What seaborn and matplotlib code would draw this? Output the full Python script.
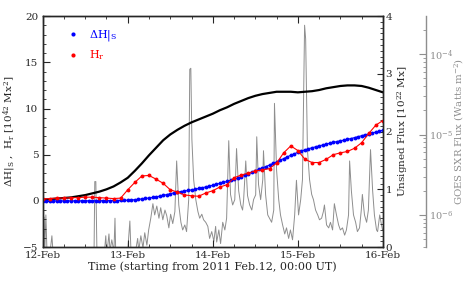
import numpy as np
import pandas as pd
import seaborn as sns
import matplotlib.pyplot as plt
from matplotlib.lines import Line2D
from matplotlib.ticker import MultipleLocator, FixedLocator, LogLocator, NullFormatter

# hours since 2011 Feb 12 00:00 UT
hours_dh = list(range(0, 97))
dh_s = [0.00, 0.00, 0.00, 0.00, 0.00, 0.00, 0.00, 0.00, 0.00, 0.00,
        0.00, 0.01, 0.01, 0.01, 0.01, 0.01, 0.02, 0.02, 0.02, 0.03,
        0.03, 0.04, 0.05, 0.06, 0.07, 0.10, 0.13, 0.17, 0.21, 0.26,
        0.31, 0.37, 0.43, 0.51, 0.59, 0.68, 0.77, 0.87, 0.95, 1.01,
        1.07, 1.13, 1.19, 1.26, 1.34, 1.42, 1.51, 1.60, 1.70, 1.80,
        1.90, 2.00, 2.10, 2.22, 2.34, 2.47, 2.61, 2.76, 2.92, 3.08,
        3.25, 3.41, 3.56, 3.72, 3.88, 4.05, 4.22, 4.40, 4.58, 4.76,
        4.94, 5.10, 5.25, 5.39, 5.52, 5.64, 5.75, 5.85, 5.95, 6.05,
        6.15, 6.24, 6.33, 6.42, 6.50, 6.58, 6.66, 6.75, 6.85, 6.95,
        7.05, 7.15, 7.25, 7.35, 7.45, 7.55, 7.65]

hours_hr = list(range(0, 97, 2))
h_r = [0.20, 0.25, 0.30, 0.30, 0.35, 0.35, 0.40, 0.40, 0.35, 0.30,
       0.25, 0.30, 1.20, 2.00, 2.70, 2.75, 2.35, 1.90, 1.20, 0.95,
       0.65, 0.55, 0.50, 0.85, 1.10, 1.50, 1.75, 2.50, 2.80, 3.00,
       3.25, 3.35, 3.50, 4.10, 5.20, 5.95, 5.45, 4.50, 4.15, 4.15,
       4.50, 5.00, 5.20, 5.35, 5.70, 6.30, 7.30, 8.20, 8.70]

hours_flux = list(range(0, 97, 2))
unsigned_flux = [0.82, 0.83, 0.84, 0.85, 0.86, 0.88, 0.90, 0.93, 0.96, 1.00,
                 1.05, 1.12, 1.20, 1.32, 1.45, 1.59, 1.72, 1.85, 1.95, 2.03,
                 2.10, 2.16, 2.21, 2.26, 2.31, 2.37, 2.42, 2.48, 2.53, 2.58,
                 2.62, 2.65, 2.67, 2.69, 2.69, 2.69, 2.68, 2.69, 2.70, 2.72,
                 2.75, 2.77, 2.79, 2.80, 2.80, 2.79, 2.76, 2.72, 2.68]

goes_hours = [0.1, 0.4, 0.6, 0.9, 1.2, 2.1, 2.6, 2.9, 4.9, 7.7, 10.5, 13.3, 14.5, 14.7, 15.0,
              15.3, 16.1, 17.3, 17.8, 18.1, 18.7, 19.0, 19.5, 20.1, 20.4, 20.6, 21.2, 22.9,
              24.0, 24.6, 24.9, 25.7, 26.8, 27.1, 27.7, 28.3, 28.8, 29.4, 29.9, 30.5, 31.1,
              31.6, 32.2, 32.8, 33.3, 33.9, 34.5, 35.0, 35.6, 36.1, 36.7, 37.3, 37.8, 38.4,
              39.0, 39.5, 40.1, 40.6, 41.2, 41.5, 41.8, 42.1, 42.6, 43.2, 43.8, 44.3, 44.9,
              45.4, 46.0, 46.6, 47.1, 47.7, 48.3, 48.8, 49.1, 49.7, 50.2, 50.8, 51.4, 51.9,
              52.5, 53.0, 53.6, 54.2, 54.7, 55.3, 55.9, 56.4, 56.7, 57.3, 57.8, 58.4, 59.0,
              59.5, 60.1, 60.4, 60.9, 61.5, 62.1, 62.3, 62.9, 63.5, 64.0, 64.6, 65.2, 65.4,
              66.0, 66.6, 67.1, 67.7, 68.3, 68.8, 69.4, 69.9, 70.5, 71.1, 71.6, 72.2, 72.8,
              73.3, 73.9, 74.2, 74.7, 75.3, 75.9, 76.4, 77.0, 77.6, 78.1, 78.7, 79.2, 79.5,
              80.1, 80.7, 81.2, 81.8, 82.3, 82.9, 83.5, 84.0, 84.6, 85.2, 85.7, 86.3, 86.6,
              87.1, 87.7, 88.3, 88.8, 89.4, 89.9, 90.2, 90.8, 91.4, 91.9, 92.5, 93.1, 93.6,
              94.2, 94.5, 95.1, 95.6, 95.9]
goes_flux = [3.9e-7, 9.4e-7, 3.6e-7, 1.0e-6, 3.6e-7, 3.5e-7, 5.5e-7, 3.5e-7, 2.6e-7, 2.6e-7,
             2.6e-7, 2.75e-7, 3.6e-7, 2.6e-6, 2.6e-6, 3.6e-7, 2.6e-7, 2.9e-7, 5.5e-7, 3.2e-7,
             5.8e-7, 3.6e-7, 4.9e-7, 3.5e-7, 9.1e-7, 3.6e-7, 2.6e-7, 2.9e-7, 3.6e-7, 8.4e-7,
             3.6e-7, 2.6e-7, 5.1e-7, 3.6e-7, 5.5e-7, 3.9e-7, 6.0e-7, 4.2e-7, 6.5e-7, 9.1e-7,
             1.38e-6, 1.0e-6, 1.29e-6, 9.1e-7, 1.23e-6, 8.7e-7, 1.15e-6, 9.8e-7, 6.9e-7, 1.02e-6,
             7.8e-7, 1.1e-6, 4.7e-6, 1.33e-6, 8.1e-7, 6.5e-7, 7.5e-7, 6.2e-7, 1.55e-6, 6.5e-5,
             6.7e-5, 8.7e-6, 2.75e-6, 1.55e-6, 1.1e-6, 9.1e-7, 1.02e-6, 8.7e-7, 8.1e-7, 7.2e-7,
             5.1e-7, 6.2e-7, 4.7e-7, 7.2e-7, 4.6e-7, 6.5e-7, 4.4e-7, 8.1e-7, 6.5e-7, 9.1e-7,
             8.4e-6, 1.8e-6, 1.33e-6, 1.55e-6, 6.7e-6, 2.0e-6, 1.33e-6, 1.15e-6, 1.55e-6, 4.7e-6,
             1.74e-6, 1.33e-6, 1.15e-6, 1.55e-6, 1.78e-6, 9.4e-6, 2.4e-6, 1.55e-6, 2.75e-6, 6.3e-6,
             1.78e-6, 1.0e-6, 9.1e-7, 8.1e-7, 1.15e-6, 2.45e-5, 3.6e-6, 1.55e-6, 1.0e-6, 7.5e-7,
             5.8e-7, 6.9e-7, 5.1e-7, 6.5e-7, 4.9e-7, 1.0e-6, 2.7e-6, 1.0e-6, 1.55e-6, 2.75e-6,
             2.3e-4, 1.55e-4, 6.5e-6, 2.75e-6, 1.8e-6, 1.55e-6, 1.15e-6, 1.0e-6, 8.7e-7, 9.1e-7,
             1.1e-6, 1.33e-6, 7.5e-7, 6.9e-7, 8.1e-7, 6.5e-7, 1.38e-6, 1.0e-6, 7.5e-7, 6.5e-7,
             6.9e-7, 5.6e-7, 6.5e-7, 1.0e-6, 4.7e-6, 2.0e-6, 1.0e-6, 8.1e-7, 6.2e-7, 6.9e-7,
             1.15e-6, 1.8e-6, 1.0e-6, 8.1e-7, 1.15e-6, 6.5e-6, 2.0e-6, 1.0e-6, 6.5e-7, 6.2e-7,
             1.0e-6, 7.5e-7, 6.5e-7]

day_ticks = [0, 24, 48, 72, 96]
day_labels = ['12-Feb', '13-Feb', '14-Feb', '15-Feb', '16-Feb']

sns.set_style('ticks')
plt.rcParams['font.family'] = 'DejaVu Serif'
plt.rcParams['mathtext.fontset'] = 'dejavuserif'
plt.rcParams['axes.linewidth'] = 1.0

fig = plt.figure(figsize=(4.68, 2.83), dpi=100)
ax = fig.add_axes([0.0912, 0.127, 0.727, 0.816])
ax2 = ax.twinx()
ax3 = ax.twinx()
ax.set_zorder(3)
ax2.set_zorder(2)
ax3.set_zorder(1)
for a in (ax, ax2, ax3):
    a.patch.set_visible(False)

# GOES curve (gray, log axis further right)
sns.lineplot(x=goes_hours, y=goes_flux, ax=ax3, color='#8e8e8e', lw=0.7, sort=False)
ax3.set_yscale('log')
ax3.set_ylim(10 ** -6.4, 10 ** -3.525)
for s in ['left', 'top', 'bottom']:
    ax3.spines[s].set_visible(False)
ax3.spines['right'].set_position(('axes', 1.126))
ax3.spines['right'].set_color('#8e8e8e')
ax3.yaxis.set_major_locator(LogLocator(base=10, numticks=10))
ax3.yaxis.set_minor_locator(LogLocator(base=10, subs=np.arange(2, 10), numticks=10))
ax3.yaxis.set_minor_formatter(NullFormatter())
ax3.tick_params(axis='y', which='major', direction='in', length=5, width=0.8, colors='#8e8e8e',
                labelsize=7, pad=2)
ax3.tick_params(axis='y', which='minor', direction='in', length=2.5, width=0.6, colors='#8e8e8e')
ax3.set_ylabel('GOES SXR Flux (Watts m$^{-2}$)', color='#8e8e8e', fontsize=7.3, labelpad=0)

# unsigned flux (black, right axis)
sns.lineplot(x=hours_flux, y=unsigned_flux, ax=ax2, color='black', lw=1.6)
ax2.set_ylim(0, 4)
ax2.yaxis.set_major_locator(MultipleLocator(1))
ax2.yaxis.set_minor_locator(MultipleLocator(0.1))
ax2.tick_params(axis='y', which='major', direction='in', length=4, width=0.8, labelsize=7.5, pad=2)
ax2.tick_params(axis='y', which='minor', direction='in', length=2, width=0.6)
ax2.set_ylabel('Unsigned Flux [10$^{22}$ Mx]', fontsize=7.5, labelpad=2)

# helicity curves (left axis)
sns.lineplot(x=hours_dh, y=dh_s, ax=ax, color='blue', lw=0.8, marker='o', ms=2.8,
             markeredgecolor='blue', markeredgewidth=0)
sns.lineplot(x=hours_hr, y=h_r, ax=ax, color='red', lw=0.8, marker='o', ms=2.8,
             markeredgecolor='red', markeredgewidth=0)
ax.set_xlim(0, 96)
ax.set_ylim(-5, 20)
ax.yaxis.set_major_locator(MultipleLocator(5))
ax.yaxis.set_minor_locator(MultipleLocator(1))
ax.xaxis.set_major_locator(FixedLocator(day_ticks))
ax.xaxis.set_minor_locator(MultipleLocator(6))
ax.set_xticklabels(day_labels)
ax.tick_params(axis='both', which='major', direction='in', length=5, width=0.8, labelsize=7.5,
               top=True, right=False, pad=3)
ax.tick_params(axis='both', which='minor', direction='in', length=2.5, width=0.6,
               top=True, right=False)
ax.set_xlabel('Time (starting from 2011 Feb.12, 00:00 UT)', fontsize=8, labelpad=1)
ax.set_ylabel(r'$\Delta$H$|_{\rm S}$ ,  H$_{\rm r}$ [10$^{42}$ Mx$^{2}$]', fontsize=7.5, labelpad=4)

handles = [Line2D([], [], ls='none', marker='o', color='blue', ms=3, mew=0),
           Line2D([], [], ls='none', marker='o', color='red', ms=3, mew=0)]
leg = ax.legend(handles, [r'$\Delta$H$|_{\rm S}$', r'H$_{\rm r}$'], loc='upper left',
                bbox_to_anchor=(0.05, 0.985), frameon=False, fontsize=8, handlelength=0.8,
                handletextpad=1.0, labelspacing=0.45, borderpad=0.3)
for txt, c in zip(leg.get_texts(), ['blue', 'red']):
    txt.set_color(c)

fig.savefig('out.png', dpi=100, facecolor='white')
